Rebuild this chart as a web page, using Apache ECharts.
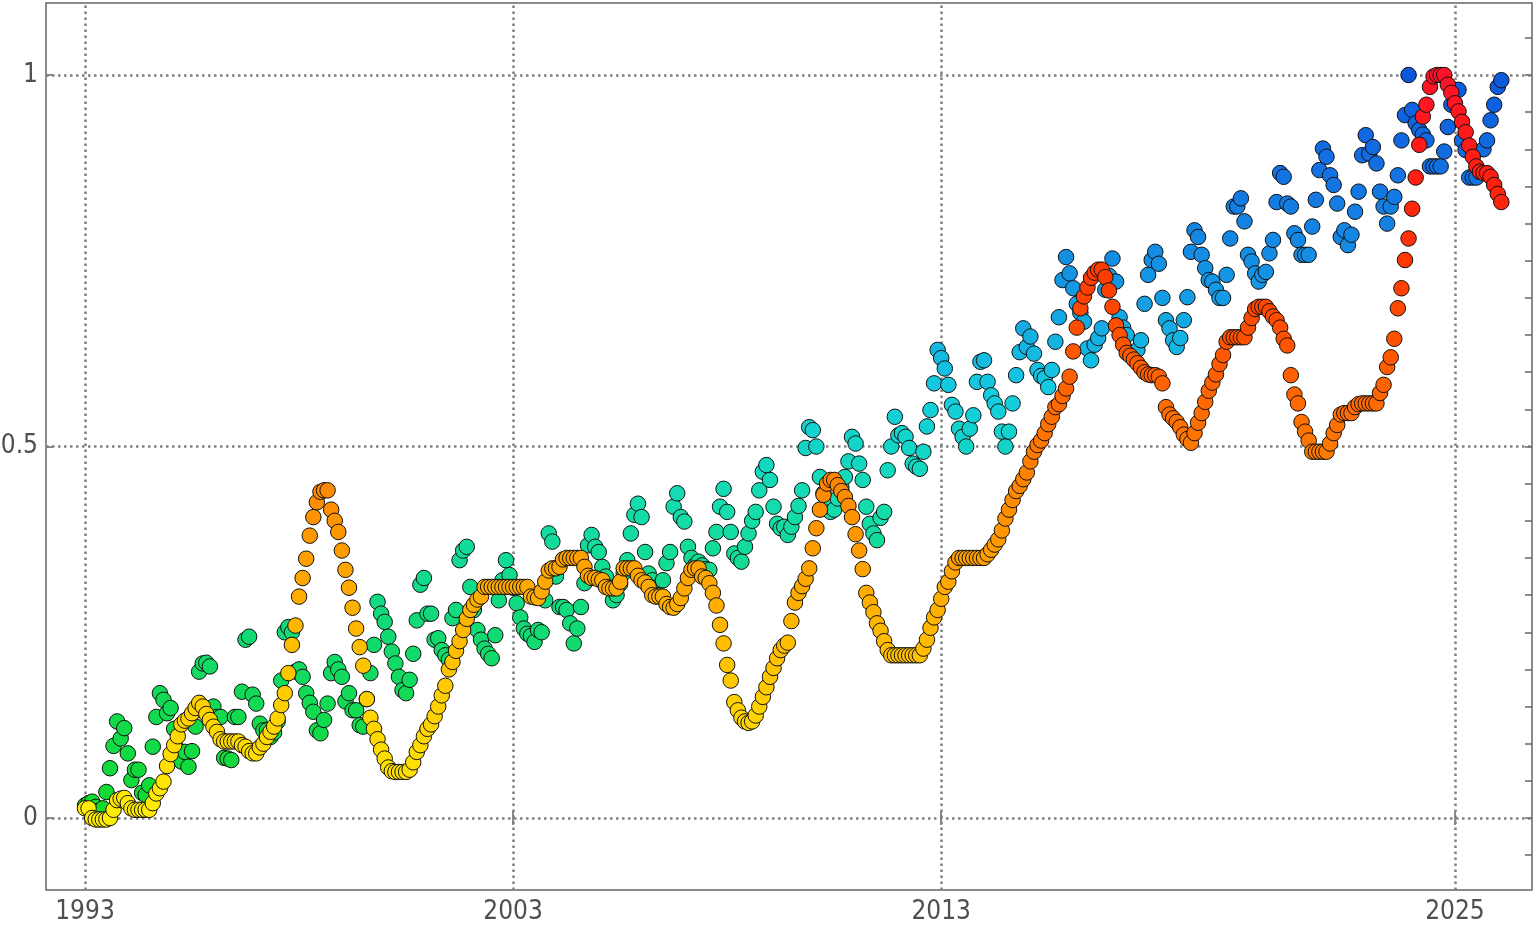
<!DOCTYPE html>
<html>
<head>
<meta charset="utf-8">
<script src="https://cdn.jsdelivr.net/npm/echarts@6/dist/echarts.min.js"></script>
<style>
	html, body {margin: 0; padding: 0; background: #fff;}
	#main {width: 1536px; height: 932px;}
</style>
</head>
<body>
<div id="main"></div>
<script>
// monthly values, first point = January 1993
var startYear = 1993;
var yearTicks = [1993, 2003, 2013, 2025];
var valueTicks = [0, 0.5, 1];
var minorTicks = [-0.05, 0, 0.05, 0.1, 0.15, 0.2, 0.25, 0.3, 0.35, 0.4, 0.45, 0.5, 0.55, 0.6, 0.65, 0.7, 0.75, 0.8, 0.85, 0.9, 0.95, 1, 1.05];

// noisy series (green -> blue)
var monthlyRaw = [
	0.017,0.02,0.022,0.015,0.01,0.013,0.035,0.067,0.097,0.13,0.107,0.121,
	0.087,0.051,0.065,0.065,0.034,0.031,0.044,0.096,0.136,0.168,0.159,0.141,
	0.148,0.12,0.092,0.076,0.089,0.069,0.09,0.123,0.197,0.208,0.209,0.204,
	0.15,0.136,0.136,0.081,0.08,0.078,0.136,0.136,0.17,0.24,0.244,0.166,
	0.154,0.127,0.118,0.118,0.109,0.115,0.13,0.185,0.25,0.257,0.25,0.197,
	0.2,0.19,0.168,0.155,0.143,0.118,0.114,0.132,0.154,0.195,0.21,0.2,
	0.19,0.157,0.168,0.145,0.145,0.125,0.123,0.16,0.195,0.233,0.291,0.275,
	0.264,0.244,0.224,0.208,0.19,0.172,0.168,0.186,0.221,0.266,0.314,0.323,
	0.275,0.275,0.24,0.242,0.226,0.219,0.213,0.269,0.28,0.347,0.36,0.365,
	0.311,0.28,0.253,0.24,0.228,0.221,0.215,0.246,0.293,0.32,0.347,0.327,
	0.31,0.289,0.27,0.255,0.248,0.245,0.237,0.253,0.25,0.293,0.383,0.372,
	0.325,0.284,0.284,0.28,0.262,0.235,0.255,0.284,0.316,0.367,0.381,0.365,
	0.358,0.338,0.325,0.31,0.293,0.3,0.315,0.33,0.347,0.383,0.408,0.423,
	0.405,0.358,0.329,0.32,0.31,0.3,0.32,0.343,0.358,0.419,0.437,0.405,
	0.399,0.365,0.35,0.34,0.345,0.34,0.335,0.334,0.363,0.385,0.419,0.443,
	0.412,0.385,0.356,0.35,0.345,0.365,0.383,0.4,0.412,0.441,0.466,0.475,
	0.455,0.419,0.396,0.39,0.392,0.381,0.392,0.405,0.42,0.441,0.498,0.526,
	0.522,0.5,0.459,0.437,0.42,0.412,0.415,0.43,0.445,0.459,0.48,0.513,
	0.504,0.477,0.455,0.419,0.396,0.383,0.374,0.404,0.412,0.468,0.5,0.54,
	0.515,0.518,0.513,0.498,0.477,0.473,0.47,0.493,0.527,0.549,0.585,0.63,
	0.619,0.605,0.583,0.556,0.547,0.524,0.513,0.5,0.524,0.542,0.587,0.614,
	0.616,0.587,0.569,0.558,0.547,0.52,0.5,0.52,0.558,0.596,0.627,0.659,
	0.634,0.648,0.625,0.603,0.595,0.592,0.58,0.603,0.641,0.674,0.724,0.755,
	0.733,0.713,0.692,0.68,0.668,0.632,0.616,0.637,0.646,0.659,0.711,0.73,
	0.753,0.722,0.674,0.66,0.65,0.627,0.621,0.63,0.643,0.692,0.731,0.751,
	0.762,0.746,0.7,0.67,0.659,0.643,0.634,0.646,0.67,0.701,0.762,0.791,
	0.782,0.758,0.74,0.724,0.722,0.711,0.7,0.7,0.731,0.78,0.823,0.823,
	0.834,0.803,0.758,0.749,0.733,0.722,0.731,0.735,0.76,0.778,0.829,0.868,
	0.863,0.827,0.823,0.787,0.778,0.758,0.758,0.758,0.796,0.832,0.872,0.901,
	0.89,0.865,0.852,0.827,0.782,0.791,0.771,0.785,0.816,0.843,0.892,0.919,
	0.894,0.903,0.881,0.843,0.823,0.8,0.823,0.836,0.865,0.912,0.946,1.0,
	0.953,0.935,0.926,0.92,0.912,0.877,0.877,0.877,0.877,0.897,0.93,0.96,
	0.98,0.98,0.912,0.899,0.862,0.862,0.862,0.87,0.9,0.912,0.939,0.96,
	0.984,0.993
];

// smoothed series (yellow -> red)
var monthlySmooth = [
	0.013,0.013,0.0,-0.002,-0.002,-0.002,-0.002,0.0,0.011,0.024,0.026,0.027,
	0.02,0.013,0.011,0.011,0.011,0.011,0.011,0.02,0.033,0.04,0.049,0.07,
	0.086,0.098,0.11,0.126,0.131,0.134,0.141,0.148,0.155,0.15,0.14,0.132,
	0.123,0.116,0.106,0.103,0.103,0.103,0.103,0.103,0.098,0.096,0.09,0.087,
	0.087,0.095,0.1,0.109,0.116,0.123,0.134,0.152,0.168,0.195,0.233,0.259,
	0.298,0.323,0.349,0.38,0.405,0.425,0.439,0.441,0.441,0.415,0.4,0.385,
	0.36,0.334,0.31,0.283,0.255,0.23,0.205,0.16,0.135,0.12,0.106,0.092,
	0.08,0.068,0.063,0.062,0.062,0.062,0.062,0.065,0.075,0.089,0.098,0.11,
	0.12,0.126,0.137,0.15,0.165,0.178,0.2,0.21,0.225,0.238,0.253,0.268,
	0.28,0.287,0.294,0.298,0.311,0.311,0.311,0.311,0.311,0.311,0.311,0.311,
	0.311,0.311,0.311,0.311,0.311,0.298,0.297,0.296,0.305,0.318,0.333,0.336,
	0.336,0.338,0.348,0.35,0.35,0.35,0.35,0.35,0.338,0.326,0.323,0.323,
	0.321,0.32,0.311,0.309,0.309,0.309,0.318,0.336,0.336,0.336,0.336,0.326,
	0.32,0.317,0.311,0.3,0.298,0.298,0.298,0.288,0.284,0.283,0.288,0.296,
	0.309,0.323,0.334,0.336,0.336,0.325,0.323,0.316,0.303,0.286,0.26,0.235,
	0.206,0.185,0.156,0.145,0.135,0.13,0.128,0.13,0.138,0.15,0.163,0.176,
	0.19,0.202,0.215,0.226,0.232,0.236,0.265,0.29,0.303,0.312,0.322,0.336,
	0.363,0.39,0.415,0.435,0.45,0.455,0.455,0.448,0.44,0.432,0.42,0.405,
	0.382,0.36,0.335,0.303,0.29,0.277,0.262,0.252,0.238,0.226,0.219,0.219,
	0.219,0.219,0.219,0.219,0.219,0.219,0.219,0.228,0.24,0.256,0.27,0.28,
	0.295,0.311,0.318,0.332,0.344,0.35,0.35,0.35,0.35,0.35,0.35,0.35,
	0.35,0.355,0.361,0.368,0.375,0.387,0.403,0.415,0.428,0.44,0.447,0.456,
	0.465,0.48,0.493,0.502,0.508,0.518,0.53,0.54,0.553,0.557,0.568,0.578,
	0.594,0.628,0.66,0.686,0.702,0.714,0.727,0.734,0.738,0.738,0.728,0.71,
	0.688,0.663,0.65,0.637,0.626,0.622,0.617,0.612,0.606,0.6,0.597,0.596,
	0.596,0.594,0.585,0.553,0.543,0.538,0.533,0.526,0.516,0.51,0.505,0.518,
	0.532,0.545,0.56,0.575,0.586,0.597,0.611,0.623,0.641,0.647,0.647,0.647,
	0.647,0.647,0.66,0.673,0.685,0.688,0.688,0.688,0.682,0.675,0.67,0.66,
	0.645,0.636,0.596,0.57,0.558,0.533,0.52,0.508,0.493,0.493,0.493,0.493,
	0.493,0.504,0.518,0.529,0.543,0.545,0.545,0.545,0.553,0.557,0.558,0.558,
	0.558,0.558,0.558,0.572,0.583,0.607,0.62,0.645,0.686,0.713,0.751,0.78,
	0.82,0.862,0.906,0.944,0.96,0.984,0.998,1.0,1.0,1.0,0.987,0.976,
	0.962,0.951,0.937,0.923,0.905,0.89,0.877,0.87,0.868,0.868,0.863,0.852,
	0.84,0.829
];

function toPoints(values) {
	return values.map(function (v, i) { return [startYear + i / 12, v]; });
}

var frameColor = '#666';
var labelStyle = {color: '#4f4f4f', fontSize: 26, fontFamily: '"DejaVu Sans Condensed", "DejaVu Sans", sans-serif'};
var gridLine = {color: '#808080', width: 2.5, type: [2.5, 3.5]};

var myChart = echarts.init(document.getElementById('main'));
var option = {
	animation: false,
	backgroundColor: '#fff',
	grid: {
		left: 46, right: 4, top: 3, bottom: 42,
		outerBoundsMode: 'none',
		containLabel: false,
		show: true, borderColor: frameColor, borderWidth: 1.5, backgroundColor: 'transparent'
	},
	xAxis: [{
		type: 'value',
		min: 1992.089,
		max: 2026.8,
		position: 'bottom',
		axisLine: {show: false},
		axisTick: {show: true, inside: true, length: 7, customValues: yearTicks, lineStyle: {color: frameColor, width: 1.5}},
		axisLabel: Object.assign({customValues: yearTicks, margin: 9, formatter: function (v) { return String(v); }}, labelStyle),
		splitLine: {show: false}
	}, {
		type: 'value',
		min: 1992.089,
		max: 2026.8,
		position: 'top',
		axisLine: {show: false},
		axisTick: {show: true, inside: true, length: 7, customValues: yearTicks, lineStyle: {color: frameColor, width: 1.5}},
		axisLabel: {show: false},
		splitLine: {show: false}
	}],
	yAxis: [{
		type: 'value',
		min: -0.0969,
		max: 1.0969,
		position: 'left',
		axisLine: {show: false},
		axisTick: {show: true, inside: true, length: 7, customValues: valueTicks, lineStyle: {color: frameColor, width: 1.5}},
		axisLabel: Object.assign({customValues: valueTicks, margin: 8, formatter: function (v) { return String(v); }}, labelStyle),
		splitLine: {show: false}
	}, {
		type: 'value',
		min: -0.0969,
		max: 1.0969,
		position: 'right',
		axisLine: {show: false},
		axisTick: {show: true, inside: true, length: 7, customValues: minorTicks, lineStyle: {color: frameColor, width: 1.5}},
		axisLabel: {show: false},
		splitLine: {show: false}
	}],
	visualMap: [{
		show: false,
		type: 'continuous',
		seriesIndex: 1,
		dimension: 1,
		min: 0,
		max: 1,
		inRange: {color: ['#12da2a', '#12da50', '#12da80', '#14dcb0', '#14cce0', '#1498e4', '#1474e2', '#0c58dc']}
	}, {
		show: false,
		type: 'continuous',
		seriesIndex: 2,
		dimension: 1,
		min: 0,
		max: 1,
		inRange: {color: ['#ffee00', '#ffd200', '#ffb000', '#ff8c00', '#ff6600', '#ff4000', '#ff2010', '#ff1228']}
	}],
	series: [{
		// reference grid lines
		type: 'scatter',
		data: [],
		silent: true,
		markLine: {
			silent: true,
			z: 1,
			symbol: 'none',
			label: {show: false},
			lineStyle: gridLine,
			data: yearTicks.map(function (y) { return {xAxis: y}; })
				.concat(valueTicks.map(function (v) { return {yAxis: v}; }))
		}
	}, {
		name: 'raw',
		type: 'scatter',
		z: 3,
		symbolSize: 15.5,
		itemStyle: {borderColor: '#111', borderWidth: 1, opacity: 1},
		data: toPoints(monthlyRaw)
	}, {
		name: 'smooth',
		type: 'scatter',
		z: 4,
		symbolSize: 15.5,
		itemStyle: {borderColor: '#111', borderWidth: 1, opacity: 1},
		data: toPoints(monthlySmooth)
	}]
};
myChart.setOption(option);
</script>
</body>
</html>
